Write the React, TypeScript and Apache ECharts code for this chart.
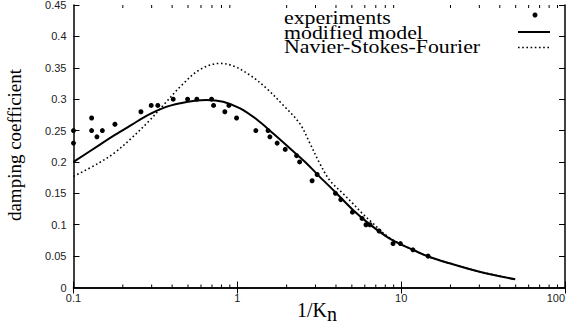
import React, { useEffect, useRef } from "react";
import * as echarts from "echarts";

const experiments: [number, number][] = [
  [0.1, 0.25], [0.1, 0.23], [0.129, 0.27], [0.129, 0.25], [0.139, 0.24], [0.15, 0.25],
  [0.179, 0.26], [0.258, 0.28], [0.298, 0.29], [0.327, 0.29], [0.406, 0.3], [0.497, 0.3],
  [0.566, 0.3], [0.696, 0.3], [0.716, 0.29], [0.839, 0.28], [0.888, 0.29], [0.989, 0.27],
  [1.297, 0.25], [1.54, 0.25], [1.58, 0.24], [1.75, 0.23], [1.96, 0.22], [2.3, 0.21],
  [2.4, 0.2], [2.86, 0.17], [3.07, 0.18], [3.97, 0.15], [4.28, 0.14], [5.04, 0.12],
  [5.77, 0.11], [6.1, 0.1], [6.45, 0.1], [7.33, 0.09], [8.92, 0.07], [9.89, 0.07],
  [11.8, 0.06], [14.6, 0.05],
];

const modifiedModel: [number, number][] = [
  [0.1, 0.2], [0.142, 0.226], [0.179, 0.243], [0.226, 0.259], [0.286, 0.275],
  [0.361, 0.287], [0.457, 0.294], [0.55, 0.2975], [0.649, 0.2987], [0.819, 0.296],
  [1.04, 0.2855], [1.31, 0.268], [1.65, 0.2456], [2.09, 0.2217], [2.64, 0.198],
  [3.11, 0.179], [3.94, 0.1526], [5.08, 0.1235], [6.41, 0.101], [8.51, 0.078],
  [11.8, 0.06], [14.9, 0.0485], [19.8, 0.0385], [30.1, 0.0252], [49.7, 0.013],
];

const navierStokesFourier: [number, number][] = [
  [0.1, 0.177], [0.142, 0.198], [0.179, 0.215], [0.226, 0.238], [0.286, 0.264],
  [0.361, 0.293], [0.457, 0.322], [0.59, 0.347], [0.782, 0.357], [0.942, 0.353],
  [1.19, 0.3385], [1.51, 0.317], [1.9, 0.2907], [2.4, 0.2615], [2.77, 0.23],
  [3.18, 0.198], [3.66, 0.171], [4.4, 0.15], [5.06, 0.134], [5.74, 0.119],
  [6.61, 0.104], [8.51, 0.079], [11.8, 0.06], [14.9, 0.0485], [19.8, 0.0385],
  [30.1, 0.0252], [49.7, 0.013],
];

const minorTicks: number[] = [
  0.2, 0.3, 0.4, 0.5, 0.6, 0.7, 0.8, 0.9,
  2, 3, 4, 5, 6, 7, 8, 9,
  20, 30, 40, 50, 60, 70, 80, 90,
];

const legendNames = ["experiments", "modified model", "Navier-Stokes-Fourier"];
const yTitle = "damping coefficient";

export default function App() {
  const ref = useRef<HTMLDivElement>(null);
  useEffect(() => {
    if (!ref.current) return;
    const chart = echarts.init(ref.current, null, { renderer: "svg" });
    const serif = "Liberation Serif";
    const sans = "Liberation Sans";
    const axisCommon = {
      axisLine: { show: true, lineStyle: { color: "#000", width: 1.5 } },
      splitLine: { show: false },
    };
    const legendX = 284;
    const legendRows = [17.5, 32.5, 46.5];
    chart.setOption({
      animation: false,
      backgroundColor: "#fff",
      grid: { left: 73.5, right: 3, top: 5, bottom: 41.5, containLabel: false, outerBoundsMode: "none" },
      xAxis: [
        {
          type: "log", logBase: 10, min: 0.1, max: 100, position: "bottom",
          ...axisCommon,
          axisTick: { show: true, inside: true, length: 6, lineStyle: { color: "#000", width: 1 } },
          axisLabel: { show: true, color: "#222", fontFamily: sans, fontSize: 11, margin: 5,
            alignMaxLabel: "right",
            formatter: (v: number) => String(v) },
        },
        {
          type: "log", logBase: 10, min: 0.1, max: 100, position: "top",
          ...axisCommon,
          axisTick: { show: true, inside: true, length: 6, lineStyle: { color: "#000", width: 1 } },
          axisLabel: { show: false },
        },
      ],
      yAxis: [
        {
          type: "value", min: 0, max: 0.45, interval: 0.05, position: "left",
          ...axisCommon,
          axisTick: { show: true, inside: true, length: 6, lineStyle: { color: "#000", width: 1 } },
          axisLabel: { show: true, color: "#222", fontFamily: sans, fontSize: 11, margin: 7,
            formatter: (v: number) => String(Math.round(v * 100) / 100) },
        },
        {
          type: "value", min: 0, max: 0.45, interval: 0.05, position: "right",
          ...axisCommon,
          axisTick: { show: true, inside: true, length: 6, lineStyle: { color: "#000", width: 1 } },
          axisLabel: { show: false },
        },
      ],
      series: [
        {
          type: "custom",
          silent: true,
          clip: false,
          data: minorTicks.map((v) => [v, 0]),
          encode: { x: 0, y: 1 },
          renderItem: (params: any, api: any) => {
            const x = api.value(0);
            const p0 = api.coord([x, 0]);
            const p1 = api.coord([x, 0.45]);
            const st = { stroke: "#000", lineWidth: 1 };
            return {
              type: "group",
              children: [
                { type: "line", shape: { x1: p0[0], y1: p0[1], x2: p0[0], y2: p0[1] - 3 }, style: st },
                { type: "line", shape: { x1: p1[0], y1: p1[1], x2: p1[0], y2: p1[1] + 3 }, style: st },
              ],
            };
          },
        },
        {
          name: legendNames[2],
          type: "line",
          data: navierStokesFourier,
          showSymbol: false,
          smooth: 0.35,
          lineStyle: { color: "#000", width: 1.6, type: [1.6, 2.6] },
          z: 2,
        },
        {
          name: legendNames[1],
          type: "line",
          data: modifiedModel,
          showSymbol: false,
          smooth: 0.35,
          lineStyle: { color: "#000", width: 2 },
          z: 3,
        },
        {
          name: legendNames[0],
          type: "scatter",
          data: experiments,
          symbol: "circle",
          symbolSize: 5,
          itemStyle: { color: "#000", opacity: 1 },
          z: 4,
        },
      ],
      graphic: [
        ...legendNames.map((n, i) => ({
          type: "text",
          x: legendX,
          y: legendRows[i],
          scaleX: 1.15,
          style: { text: n, fontFamily: serif, fontSize: 19, fill: "#000", align: "left", verticalAlign: "middle" },
          z: 10,
        })),
        { type: "circle", shape: { cx: 535, cy: 15, r: 2.5 }, style: { fill: "#000" }, z: 10 },
        { type: "line", shape: { x1: 518, y1: 32, x2: 550, y2: 32 }, style: { stroke: "#000", lineWidth: 2 }, z: 10 },
        { type: "line", shape: { x1: 518, y1: 47.5, x2: 550, y2: 47.5 }, style: { stroke: "#000", lineWidth: 1.6, lineDash: [1.6, 2.6] }, z: 10 },
        {
          type: "text",
          x: 14,
          y: 145,
          rotation: Math.PI / 2,
          style: { text: yTitle, fontFamily: serif, fontSize: 19, fill: "#000", align: "center", verticalAlign: "middle" },
        },
        {
          type: "text",
          x: 327,
          y: 310,
          style: { text: "1/K", fontFamily: serif, fontSize: 20, fill: "#000", align: "right", verticalAlign: "middle" },
        },
        {
          type: "text",
          x: 327,
          y: 314,
          style: { text: "n", fontFamily: serif, fontSize: 20, fill: "#000", align: "left", verticalAlign: "middle" },
        },
      ],
    });
    return () => chart.dispose();
  }, []);
  return <div ref={ref} style={{ position: "absolute", left: 0, top: 0, width: 568, height: 329 }} />;
}
